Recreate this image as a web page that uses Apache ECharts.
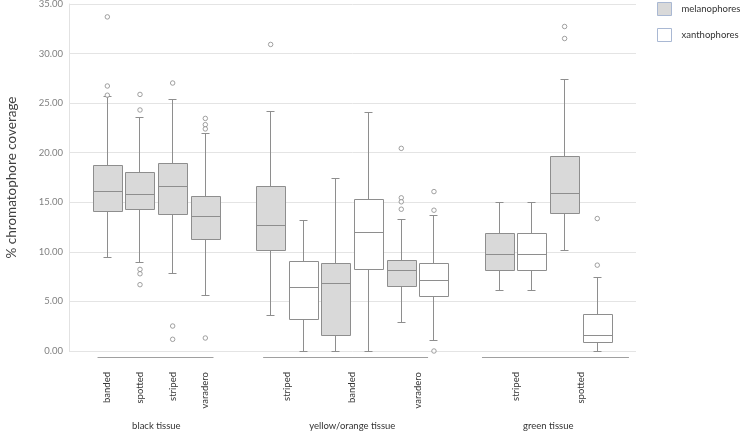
<!DOCTYPE html>
<html><head><meta charset="utf-8">
<script src="https://cdn.jsdelivr.net/npm/echarts@6/dist/echarts.min.js"></script>
<style>html,body{margin:0;padding:0;background:#fff}#c{width:741px;height:431px}</style>
</head><body><div id="c"></div>
<script>
// ---------- data ----------
const tissues = ['black tissue', 'yellow/orange tissue', 'green tissue'];
const blackPatterns = ['banded', 'spotted', 'striped', 'varadero'];
const yellowPatterns = ['striped', 'banded', 'varadero'];
const greenPatterns = ['striped', 'spotted'];
const seriesNames = ['melanophores', 'xanthophores'];

// box statistics: [min whisker, Q1, median, Q3, max whisker]
const melBlack = [
  [9.44, 14.07, 16.08, 18.70, 25.65],
  [8.93, 14.27, 15.75, 17.97, 23.53],
  [7.82, 13.74, 16.59, 18.87, 25.35],
  [5.61, 11.28, 13.56, 15.61, 21.92]
];
const melBlackOutliers = [
  [33.70, 26.73, 25.80],
  [25.88, 24.31, 8.23, 7.79, 6.69],
  [27.03, 2.52, 1.18],
  [23.46, 22.83, 22.40, 1.31]
];
const melYellow = [
  [3.56, 10.17, 12.63, 16.62, 24.11],
  [0.00, 1.58, 6.82, 8.80, 17.36],
  [2.86, 6.49, 8.10, 9.16, 13.23]
];
const melYellowOutliers = [[30.92], [], [20.44, 15.45, 15.05, 14.30]];
const xanYellow = [
  [0.00, 3.19, 6.38, 9.06, 13.19],
  [0.00, 8.20, 11.92, 15.31, 24.04],
  [1.01, 5.54, 7.09, 8.86, 13.64]
];
const xanYellowOutliers = [[], [], [16.08, 14.20, 0.00]];
const melGreen = [
  [6.14, 8.10, 9.71, 11.88, 14.94],
  [10.17, 13.90, 15.85, 19.58, 27.43]
];
const melGreenOutliers = [[], [32.73, 31.52]];
const xanGreen = [
  [6.14, 8.10, 9.71, 11.88, 14.94],
  [0.00, 0.88, 1.55, 3.73, 7.39]
];
const xanGreenOutliers = [[], [13.36, 8.66]];

const yMin = 0, yMax = 35, yStep = 5;

// ---------- styles / layout ----------
const FONT = 'Lato';
const EDGE = '#8e8e8e';
const MEL_FILL = '#d9d9d9';
const XAN_FILL = '#ffffff';
const BOX_FRAC = 0.9;
const CAP_FRAC = 0.24;
const GROUP_LINE_Y = -0.66;
const groupLinePad = [[-0.3, 0.25], [-0.23, -0.18], [-0.53, 0.97]];

// ---------- build slots ----------
let slot = 0;
const melBoxes = [], xanBoxes = [], outlierPts = [], patternLabels = [], groupSpans = [];
function addGroup(patterns, mel, melOut, xan, xanOut) {
  if (groupSpans.length) slot++; // gap slot between groups
  const start = slot;
  patterns.forEach((p, i) => {
    const first = slot;
    melBoxes.push([slot].concat(mel[i]));
    melOut[i].forEach(v => outlierPts.push([slot, v]));
    slot++;
    if (xan) {
      xanBoxes.push([slot].concat(xan[i]));
      xanOut[i].forEach(v => outlierPts.push([slot, v]));
      slot++;
    }
    patternLabels.push({ pos: (first + slot - 1) / 2, text: p });
  });
  groupSpans.push([start, slot - 1]);
}
addGroup(blackPatterns, melBlack, melBlackOutliers, null, null);
addGroup(yellowPatterns, melYellow, melYellowOutliers, xanYellow, xanYellowOutliers);
addGroup(greenPatterns, melGreen, melGreenOutliers, xanGreen, xanGreenOutliers);
const nSlots = slot; // slots 0 .. nSlots-1

const nPos = 2 * nSlots + 1; // half-slot positions from -0.5 to nSlots-0.5
const patternCats = new Array(nPos).fill('');
patternLabels.forEach(l => { patternCats[Math.round(2 * l.pos + 1)] = l.text; });
const groupCats = new Array(nPos).fill('');
groupSpans.forEach((g, i) => { groupCats[Math.round(g[0] + g[1] + 1)] = tissues[i]; });
const groupLineData = groupSpans.map((g, i) => [g[0] + groupLinePad[i][0], g[1] + groupLinePad[i][1]]);

function crisp(v) { return Math.round(v - 0.5) + 0.5; }

function boxRenderer(fill) {
  return function (params, api) {
    const x = api.value(0);
    const pMin = api.coord([x, api.value(1)]);
    const pQ1 = api.coord([x, api.value(2)]);
    const pMed = api.coord([x, api.value(3)]);
    const pQ3 = api.coord([x, api.value(4)]);
    const pMax = api.coord([x, api.value(5)]);
    const unit = api.size([1, 0])[0];
    const bw = Math.round(unit * BOX_FRAC), cw = Math.round(unit * CAP_FRAC);
    const cx = crisp(pMed[0]);
    const ls = { stroke: EDGE, lineWidth: 1, fill: null };
    const yMinP = crisp(pMin[1]), yQ1 = crisp(pQ1[1]), yMed = crisp(pMed[1]), yQ3 = crisp(pQ3[1]), yMaxP = crisp(pMax[1]);
    const bx = Math.round(cx - bw / 2) + 0.5;
    return {
      type: 'group',
      children: [
        { type: 'line', shape: { x1: cx, y1: yQ3, x2: cx, y2: yMaxP }, style: ls },
        { type: 'line', shape: { x1: cx, y1: yQ1, x2: cx, y2: yMinP }, style: ls },
        { type: 'line', shape: { x1: cx - cw / 2, y1: yMaxP, x2: cx + cw / 2, y2: yMaxP }, style: ls },
        { type: 'line', shape: { x1: cx - cw / 2, y1: yMinP, x2: cx + cw / 2, y2: yMinP }, style: ls },
        { type: 'rect', shape: { x: bx, y: yQ3, width: bw, height: yQ1 - yQ3 }, style: { fill: fill, stroke: EDGE, lineWidth: 1 } },
        { type: 'line', shape: { x1: bx, y1: yMed, x2: bx + bw, y2: yMed }, style: ls }
      ]
    };
  };
}

const gridTop = 4, gridBottom = 80;
const chart = echarts.init(document.getElementById('c'), null, { renderer: 'canvas' });
chart.setOption({
  animation: false,
  backgroundColor: '#fff',
  textStyle: { fontFamily: FONT },
  grid: [
    { left: 69, right: 105, top: gridTop, bottom: gridBottom, containLabel: false, outerBoundsMode: 'none' },
    { left: 91, right: 127.4, top: gridTop, bottom: gridBottom, containLabel: false, outerBoundsMode: 'none' }
  ],
  legend: {
    orient: 'vertical', left: 657, top: 2, padding: 0, itemWidth: 14, itemHeight: 13, itemGap: 12,
    selectedMode: false,
    textStyle: { fontFamily: FONT, fontSize: 9.5, color: '#333', padding: [0, 0, 0, 5] },
    data: [
      { name: seriesNames[0], icon: 'rect', itemStyle: { color: MEL_FILL, borderColor: '#a9b8d3', borderWidth: 1 } },
      { name: seriesNames[1], icon: 'rect', itemStyle: { color: XAN_FILL, borderColor: '#a9b8d3', borderWidth: 1 } }
    ]
  },
  xAxis: [
    { gridIndex: 0, type: 'value', show: false, min: 0, max: 1 },
    { gridIndex: 1, type: 'value', show: false, min: -0.5, max: nSlots - 0.5 },
    {
      gridIndex: 1, type: 'category', position: 'bottom', boundaryGap: false, data: patternCats,
      axisLine: { show: false }, axisTick: { show: false },
      axisLabel: { interval: 0, rotate: 90, margin: 21, fontFamily: FONT, fontSize: 9.5, color: '#333' }
    },
    {
      gridIndex: 1, type: 'category', position: 'bottom', boundaryGap: false, data: groupCats,
      axisLine: { show: false }, axisTick: { show: false },
      axisLabel: { interval: 0, margin: 70, fontFamily: FONT, fontSize: 9.5, color: '#333' }
    }
  ],
  yAxis: [
    {
      gridIndex: 0, type: 'value', min: yMin, max: yMax, interval: yStep,
      name: '% chromatophore coverage', nameLocation: 'middle', nameGap: 50,
      nameTextStyle: { fontFamily: FONT, fontSize: 13.5, color: '#404040' },
      axisLine: { show: true, lineStyle: { color: '#e2e2e2' } },
      axisTick: { show: false },
      axisLabel: { margin: 6, fontFamily: FONT, fontSize: 9.5, color: '#808080', formatter: v => v.toFixed(2) },
      splitLine: { show: true, lineStyle: { color: '#e4e4e4', width: 1 } }
    },
    { gridIndex: 1, type: 'value', min: yMin, max: yMax, interval: yStep, show: false, splitLine: { show: false } }
  ],
  series: [
    {
      name: seriesNames[0], type: 'custom', xAxisIndex: 1, yAxisIndex: 1,
      renderItem: boxRenderer(MEL_FILL), data: melBoxes,
      encode: { x: 0, y: [1, 2, 3, 4, 5] }, itemStyle: { color: MEL_FILL }, z: 2
    },
    {
      name: seriesNames[1], type: 'custom', xAxisIndex: 1, yAxisIndex: 1,
      renderItem: boxRenderer(XAN_FILL), data: xanBoxes,
      encode: { x: 0, y: [1, 2, 3, 4, 5] }, itemStyle: { color: XAN_FILL }, z: 2
    },
    {
      name: 'outliers', type: 'scatter', xAxisIndex: 1, yAxisIndex: 1, data: outlierPts,
      symbol: 'circle', symbolSize: 4.5,
      itemStyle: { color: '#fff', borderColor: '#8a8a8a', borderWidth: 1 }, z: 3, silent: true
    },
    {
      name: 'groupLines', type: 'custom', xAxisIndex: 1, yAxisIndex: 1, clip: false, silent: true,
      data: groupLineData, encode: { x: [0, 1] },
      renderItem: function (params, api) {
        const a = api.coord([api.value(0), GROUP_LINE_Y]);
        const b = api.coord([api.value(1), GROUP_LINE_Y]);
        const y = crisp(a[1]);
        return { type: 'line', shape: { x1: a[0], y1: y, x2: b[0], y2: y }, style: { stroke: '#a0a0a0', lineWidth: 1 } };
      }
    }
  ]
});
</script>
</body></html>
